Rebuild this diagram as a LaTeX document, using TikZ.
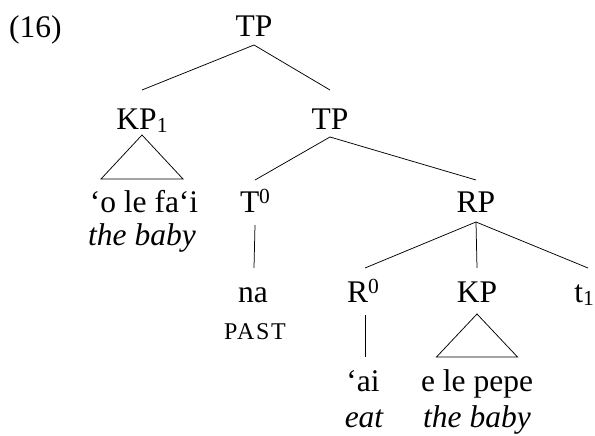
\documentclass[tikz,border=0pt]{standalone}
\usepackage{fontspec}
\setmainfont{Liberation Serif}
\newcommand{\mysub}[1]{\raisebox{-2.5pt}{\fontsize{21.5}{21.5}\selectfont #1}}
\newcommand{\mysup}[1]{\raisebox{9pt}{\fontsize{21.5}{21.5}\selectfont #1}}
\begin{document}
\begin{tikzpicture}[x=1pt,y=1pt,
  every node/.style={inner sep=0pt, anchor=base, font=\fontsize{31.5}{31.5}\selectfont},
  branch/.style={line width=0.75pt},
  gloss/.style={font=\fontsize{31.5}{31.5}\selectfont\itshape},
  smallcap/.style={font=\fontsize{24}{24}\selectfont\addfontfeature{LetterSpace=7}}]
\useasboundingbox (0,0) rectangle (595,436);
\node[anchor=base west] (ex) at (9,398) {(16)};
\node (tp) at (254,399) {TP};
\node (kp1) at (142,306) {KP\mysub{1}};
\node (tp2) at (330,306) {TP};
\node (w1) at (144,223) {‘o le fa‘i};
\node[gloss] (g1) at (142,190) {the baby};
\node (t0) at (255,223) {T\mysup{0}};
\node (rp) at (476,223) {RP};
\node (na) at (253,133) {na};
\node[smallcap] (past) at (255,96) {PAST};
\node (r0) at (363,133) {R\mysup{0}};
\node (kp) at (477,133) {KP};
\node (t1) at (584,133) {t\mysub{1}};
\node (ai) at (363,44) {‘ai};
\node (w2) at (477,44) {e le pepe};
\node[gloss] (eat) at (364,8) {eat};
\node[gloss] (g2) at (477,8) {the baby};
% branches
\draw[branch] ([yshift=-8pt]tp.base) -- ([yshift=40pt]kp1.base);
\draw[branch] ([yshift=-8pt]tp.base) -- ([yshift=40pt]tp2.base);
\draw[branch] ([yshift=-7pt]tp2.base) -- ([yshift=33pt]t0.base);
\draw[branch] ([yshift=-7pt]tp2.base) -- ([yshift=33pt]rp.base);
\draw[branch] ([yshift=-12pt]t0.base) -- ([xshift=1pt,yshift=35pt]na.base);
\draw[branch] ([yshift=-9pt]rp.base) -- ([xshift=2pt,yshift=35pt]r0.base);
\draw[branch] ([yshift=-9pt]rp.base) -- ([yshift=35pt]kp.base);
\draw[branch] ([yshift=-9pt]rp.base) -- ([xshift=4pt,yshift=35pt]t1.base);
\draw[branch] ([xshift=2pt,yshift=-12pt]r0.base) -- ([xshift=2pt,yshift=35pt]ai.base);
% triangles
\draw[branch] (kp1.base) +(0,-5) -- +(-41,-49) -- +(41,-49) -- cycle;
\draw[branch] (kp.base) +(0,-11) -- +(-40.5,-54) -- +(40.5,-54) -- cycle;
\end{tikzpicture}
\end{document}
